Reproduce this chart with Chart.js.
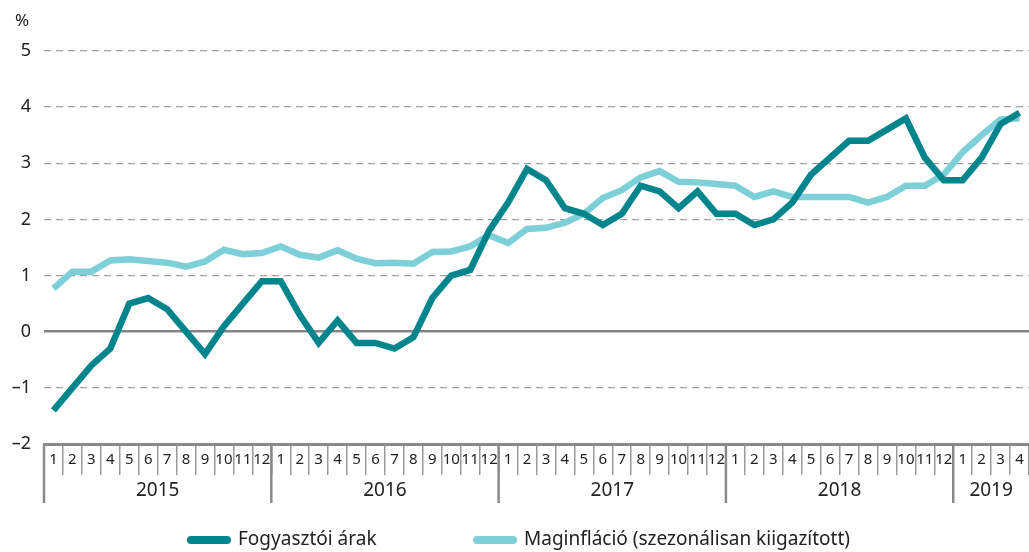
<!DOCTYPE html>
<html lang="hu">
<head>
    <meta charset="UTF-8">
    <title>Infláció</title>
    <script src="https://cdn.jsdelivr.net/npm/chart.js@4/dist/chart.umd.min.js"></script>
    <style>
        html, body { margin: 0; padding: 0; background: #fff; }
        #wrap { width: 1029px; height: 552px; }
    </style>
</head>
<body>
    <div id="wrap"><canvas id="inflChart" width="1029" height="552"></canvas></div>

    <script>
        // havi címkék 2015/1 - 2019/4
        const months = [
            '1','2','3','4','5','6','7','8','9','10','11','12',
            '1','2','3','4','5','6','7','8','9','10','11','12',
            '1','2','3','4','5','6','7','8','9','10','11','12',
            '1','2','3','4','5','6','7','8','9','10','11','12',
            '1','2','3','4'
        ];
        const years = ['2015', '2016', '2017', '2018', '2019'];
        const monthsInYear = [12, 12, 12, 12, 4];
        const yTicks = [-2, -1, 0, 1, 2, 3, 4, 5];

        const fogyasztoi = [
            -1.4, -1.0, -0.6, -0.3, 0.5, 0.6, 0.4, 0.0, -0.4, 0.1, 0.5, 0.9,
            0.9, 0.3, -0.2, 0.2, -0.2, -0.2, -0.3, -0.1, 0.6, 1.0, 1.1, 1.8,
            2.3, 2.9, 2.7, 2.2, 2.1, 1.9, 2.1, 2.6, 2.5, 2.2, 2.5, 2.1,
            2.1, 1.9, 2.0, 2.3, 2.8, 3.1, 3.4, 3.4, 3.6, 3.8, 3.1, 2.7,
            2.7, 3.1, 3.7, 3.9
        ];
        const maginflacio = [
            0.77, 1.07, 1.07, 1.27, 1.29, 1.26, 1.23, 1.16, 1.25, 1.46, 1.38, 1.40,
            1.52, 1.37, 1.32, 1.45, 1.30, 1.22, 1.23, 1.21, 1.42, 1.43, 1.52, 1.72,
            1.58, 1.83, 1.85, 1.94, 2.10, 2.38, 2.52, 2.75, 2.86, 2.67, 2.66, 2.63,
            2.60, 2.40, 2.50, 2.40, 2.40, 2.40, 2.40, 2.30, 2.40, 2.60, 2.60, 2.80,
            3.20, 3.50, 3.78, 3.80
        ];

        const FONT = "'Noto Sans', 'Open Sans', sans-serif";
        const dark = '#00858c';
        const light = '#7dd0d8';

        // évek, elválasztók, % jel és jelmagyarázat
        const extrasPlugin = {
            id: 'extras',
            afterDraw(chart) {
                const ctx = chart.ctx;
                const x = chart.scales.x;
                const bottom = chart.chartArea.bottom;
                const w = x.getPixelForValue(1) - x.getPixelForValue(0);
                ctx.save();

                let start = 0;
                ctx.strokeStyle = '#8a8a8a';
                ctx.lineWidth = 2.5;
                ctx.fillStyle = '#222';
                ctx.font = '19px ' + FONT;
                ctx.textAlign = 'center';
                ctx.textBaseline = 'middle';
                years.forEach((yr, k) => {
                    const left = x.getPixelForValue(start) - w / 2;
                    const right = x.getPixelForValue(start + monthsInYear[k] - 1) + w / 2;
                    ctx.beginPath();
                    ctx.moveTo(left, bottom);
                    ctx.lineTo(left, bottom + 59);
                    ctx.stroke();
                    ctx.fillText(yr, (left + right) / 2, bottom + 47);
                    start += monthsInYear[k];
                });

                // % felirat
                ctx.font = '17px ' + FONT;
                ctx.textAlign = 'center';
                ctx.fillText('%', 22, 21);

                // jelmagyarázat
                const legendX = [187, 473];
                const legendY = 540;
                ctx.font = '19px ' + FONT;
                ctx.textAlign = 'left';
                chart.data.datasets.forEach((ds, i) => {
                    ctx.strokeStyle = ds.borderColor;
                    ctx.lineWidth = 8;
                    ctx.lineCap = 'round';
                    ctx.beginPath();
                    ctx.moveTo(legendX[i] + 4, legendY);
                    ctx.lineTo(legendX[i] + 40, legendY);
                    ctx.stroke();
                    ctx.fillStyle = '#222';
                    ctx.fillText(ds.label, legendX[i] + 51, legendY);
                });
                ctx.restore();
            }
        };

        const ctx = document.getElementById('inflChart').getContext('2d');
        const inflChart = new Chart(ctx, {
            type: 'line',
            data: {
                labels: months,
                datasets: [{
                    label: 'Fogyasztói árak',
                    data: fogyasztoi,
                    borderColor: dark,
                    backgroundColor: dark,
                    borderWidth: 6.5,
                    pointRadius: 0,
                    tension: 0,
                    order: 1
                }, {
                    label: 'Maginfláció (szezonálisan kiigazított)',
                    data: maginflacio,
                    borderColor: light,
                    backgroundColor: light,
                    borderWidth: 6.5,
                    pointRadius: 0,
                    tension: 0,
                    order: 2
                }]
            },
            options: {
                responsive: false,
                animation: false,
                layout: { padding: { top: 51, right: 0, bottom: 38, left: 0 } },
                plugins: {
                    legend: { display: false },
                    tooltip: { enabled: false }
                },
                scales: {
                    x: {
                        offset: true,
                        grid: {
                            offset: true,
                            drawOnChartArea: false,
                            drawTicks: true,
                            tickLength: 31,
                            color: '#9a9a9a',
                            lineWidth: 1.5
                        },
                        border: { display: true, color: '#8a8a8a', width: 3 },
                        ticks: {
                            autoSkip: false,
                            maxRotation: 0,
                            padding: -24,
                            color: '#222',
                            font: { family: FONT, size: 15 }
                        },
                        afterFit(scale) { scale.height = 70; }
                    },
                    y: {
                        min: -2,
                        max: 5,
                        afterBuildTicks(scale) {
                            scale.ticks = yTicks.map(v => ({ value: v }));
                        },
                        afterFit(scale) { scale.width = 44; },
                        grid: {
                            drawTicks: false,
                            color: ctx => ctx.tick.value === -2 ? 'rgba(0,0,0,0)' : (ctx.tick.value === 0 ? '#858585' : '#a0a0a0'),
                            lineWidth: ctx => ctx.tick.value === 0 ? 2.5 : 1.3
                        },
                        border: {
                            display: false,
                            dash: ctx => ctx.tick && ctx.tick.value === 0 ? [] : [7, 5]
                        },
                        ticks: {
                            padding: 13,
                            color: '#222',
                            font: { family: FONT, size: 18 },
                            callback: v => String(v).replace('-', '–')
                        }
                    }
                }
            },
            plugins: [extrasPlugin]
        });
    </script>
</body>
</html>
